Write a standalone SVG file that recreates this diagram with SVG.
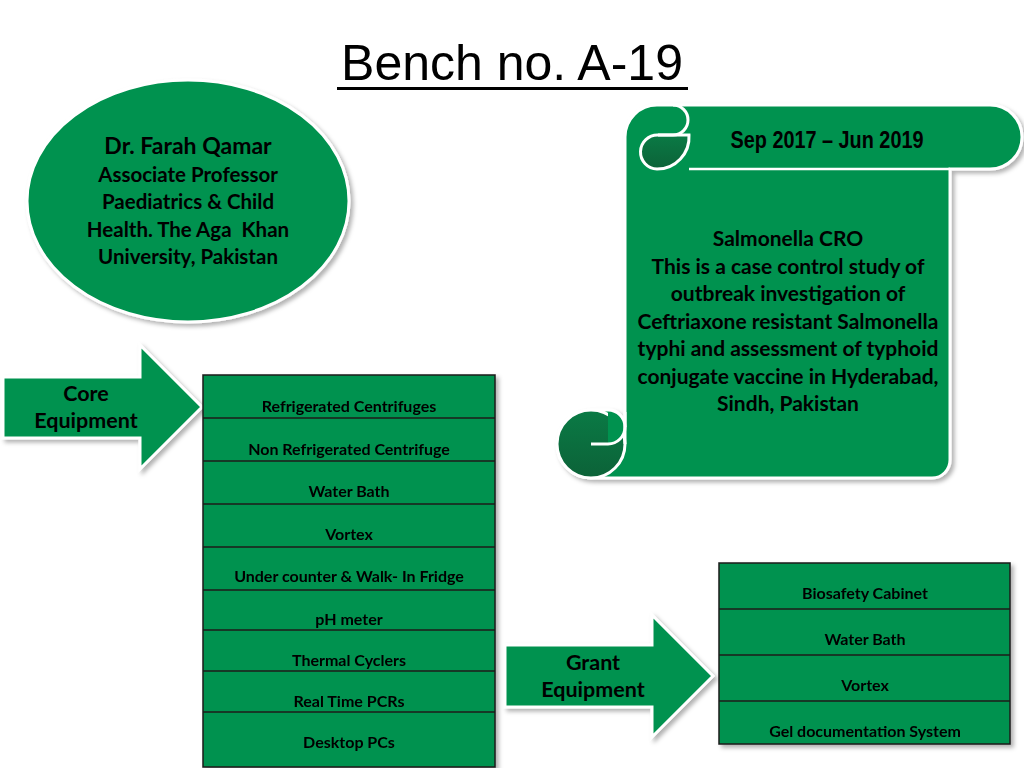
<svg xmlns="http://www.w3.org/2000/svg" width="1024" height="768" viewBox="0 0 1024 768">
<style>
.t{font-family:Lato,"Open Sans","Liberation Sans",sans-serif;font-weight:bold;fill:#000;text-anchor:middle}
.g{fill:#00924f}
.w{stroke:#fff;stroke-width:3}
.cell{fill:#00924f;stroke:#1a1a1a;stroke-width:1.5}
.ln{stroke:#1a1a1a;stroke-width:1.5}
</style>
<defs>
<filter id="sh" x="-10%" y="-10%" width="130%" height="130%">
<feDropShadow dx="3" dy="3" stdDeviation="2" flood-color="#000" flood-opacity="0.3"/>
</filter>
<linearGradient id="dk" x1="0" y1="0" x2="0" y2="1">
<stop offset="0" stop-color="#0a7a45"/>
<stop offset="1" stop-color="#0c6238"/>
</linearGradient>
</defs>
<rect width="1024" height="768" fill="#fff"/>

<g id="title">
<text x="512" y="80" font-family="'Liberation Sans',Arial,sans-serif" font-size="50" text-anchor="middle" fill="#000">Bench no. A-19</text>
<rect x="337" y="87" width="351" height="3" fill="#000"/>
</g>

<g id="person">
<ellipse cx="188" cy="201" rx="161" ry="121" class="g w" filter="url(#sh)"/>
<text class="t" x="188" y="154" font-size="23">Dr. Farah Qamar</text>
<text class="t" x="188" y="182" font-size="20.5">Associate Professor</text>
<text class="t" x="188" y="209" font-size="20.5">Paediatrics &amp; Child</text>
<text class="t" x="188" y="237" font-size="20.5">Health. The Aga&#160; Khan</text>
<text class="t" x="188" y="264" font-size="20.5">University, Pakistan</text>
</g>

<g id="project">
<path d="M657,105 L990,105 A32,32 0 0 1 990,169 L950,169 L950,460 A18,18 0 0 1 932,478 L591,478 A34,34 0 0 1 591,410 L608,410 A17,17 0 0 1 625,427 L625,137 A32,32 0 0 1 657,105 Z" class="g w" filter="url(#sh)"/>
<line x1="689" y1="169" x2="950" y2="169" stroke="#fff" stroke-width="2.5"/>
<circle cx="591" cy="444" r="34" fill="url(#dk)" class="w"/>
<path d="M608,410 A17,17 0 0 1 608,444 Z" class="g"/>
<path d="M591,444 L608,444 A17,17 0 0 0 608,410" fill="none" class="w"/>
<path d="M625,412 L625,444" stroke="#fff" stroke-width="3"/>
<path d="M658,135 L689,135 A32,32 0 0 1 657,169 A17,17 0 0 1 658,135 Z" fill="url(#dk)" class="w"/>
<path d="M673,105 A15,15 0 0 1 673,135 L658,135" fill="none" class="w"/>
<text x="827" y="148" font-family="'Liberation Sans',Arial,sans-serif" font-weight="bold" font-size="23" text-anchor="middle" textLength="193" lengthAdjust="spacingAndGlyphs">Sep 2017 – Jun 2019</text>
<text class="t" x="788" y="246" font-size="21">Salmonella CRO</text>
<text class="t" x="788" y="274" font-size="21">This is a case control study of</text>
<text class="t" x="788" y="301" font-size="21">outbreak investigation of</text>
<text class="t" x="788" y="329" font-size="21">Ceftriaxone resistant Salmonella</text>
<text class="t" x="788" y="356" font-size="21">typhi and assessment of typhoid</text>
<text class="t" x="788" y="384" font-size="21">conjugate vaccine in Hyderabad,</text>
<text class="t" x="788" y="411" font-size="21">Sindh, Pakistan</text>
</g>

<g id="core-arrow">
<polygon points="3,377 140,377 140,345 202,407 140,469 140,438 3,438" class="g w" filter="url(#sh)"/>
<text class="t" x="86" y="401" font-size="21.5">Core</text>
<text class="t" x="86" y="428" font-size="21.5">Equipment</text>
</g>

<g id="core-equipment" filter="url(#sh)">
<rect x="203" y="375" width="292" height="392" class="cell"/>
<line class="ln" x1="203" y1="418" x2="495" y2="418"/>
<line class="ln" x1="203" y1="461" x2="495" y2="461"/>
<line class="ln" x1="203" y1="504" x2="495" y2="504"/>
<line class="ln" x1="203" y1="547" x2="495" y2="547"/>
<line class="ln" x1="203" y1="590" x2="495" y2="590"/>
<line class="ln" x1="203" y1="630" x2="495" y2="630"/>
<line class="ln" x1="203" y1="671" x2="495" y2="671"/>
<line class="ln" x1="203" y1="712" x2="495" y2="712"/>
<text class="t" x="349" y="412" font-size="16">Refrigerated Centrifuges</text>
<text class="t" x="349" y="455" font-size="16">Non Refrigerated Centrifuge</text>
<text class="t" x="349" y="497" font-size="16">Water Bath</text>
<text class="t" x="349" y="540" font-size="16">Vortex</text>
<text class="t" x="349" y="582" font-size="16">Under counter &amp; Walk- In Fridge</text>
<text class="t" x="349" y="625" font-size="16">pH meter</text>
<text class="t" x="349" y="666" font-size="16">Thermal Cyclers</text>
<text class="t" x="349" y="707" font-size="16">Real Time PCRs</text>
<text class="t" x="349" y="748" font-size="16">Desktop PCs</text>
</g>

<g id="grant-arrow">
<polygon points="505,645 652,645 652,615 713,676 652,737 652,707 505,707" class="g w" filter="url(#sh)"/>
<text class="t" x="593" y="670" font-size="21.5">Grant</text>
<text class="t" x="593" y="697" font-size="21.5">Equipment</text>
</g>

<g id="grant-equipment" filter="url(#sh)">
<rect x="719" y="563" width="291" height="181" class="cell"/>
<line class="ln" x1="719" y1="609" x2="1010" y2="609"/>
<line class="ln" x1="719" y1="655" x2="1010" y2="655"/>
<line class="ln" x1="719" y1="701" x2="1010" y2="701"/>
<text class="t" x="865" y="599" font-size="16">Biosafety Cabinet</text>
<text class="t" x="865" y="645" font-size="16">Water Bath</text>
<text class="t" x="865" y="691" font-size="16">Vortex</text>
<text class="t" x="865" y="737" font-size="16">Gel documentation System</text>
</g>
</svg>
